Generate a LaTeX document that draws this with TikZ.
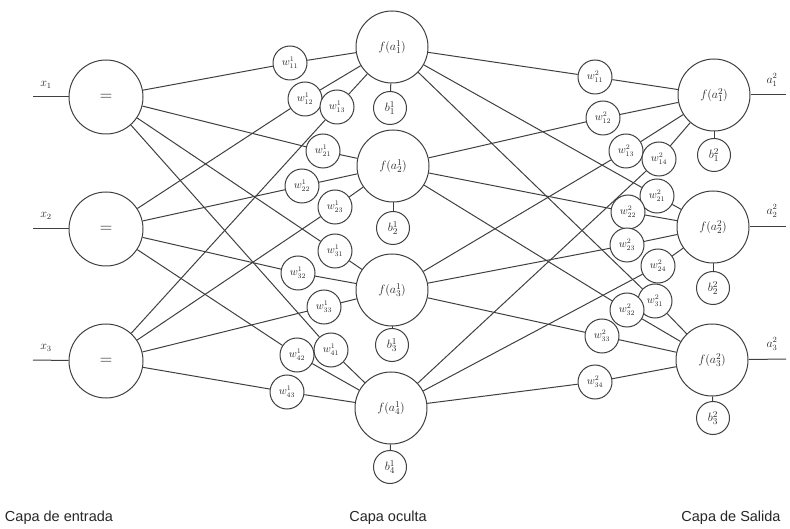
\documentclass[tikz,border=0pt]{standalone}
\usepackage{fontspec}
\newfontfamily\capfont{Liberation Sans}
\usetikzlibrary{backgrounds}
\begin{document}
\begin{tikzpicture}[x=1pt,y=-1pt,
  every node/.style={text=black!85},
  inode/.style={circle,draw=black!75,line width=1pt,fill=white,minimum size=74pt,inner sep=0pt,font=\fontsize{17}{17}\selectfont},
  neuron/.style={circle,draw=black!75,line width=1pt,fill=white,minimum size=72pt,inner sep=0pt,font=\fontsize{13}{13}\selectfont},
  wnode/.style={circle,draw=black!75,line width=1pt,fill=white,minimum size=34pt,inner sep=0pt,font=\fontsize{10.5}{10.5}\selectfont},
  bnode/.style={circle,draw=black!75,line width=1pt,fill=white,minimum size=33pt,inner sep=0pt,font=\fontsize{12.5}{12.5}\selectfont},
  link/.style={draw=black!75,line width=1pt},
  iolab/.style={font=\fontsize{12}{12}\selectfont,inner sep=0pt},
  caplab/.style={font=\capfont\fontsize{14.5}{14.5}\selectfont,inner sep=0pt}]
\useasboundingbox (0,0) rectangle (790,529);

% input layer
\node[inode] (in1) at (106,97) {$=$};
\node[inode] (in2) at (106,229) {$=$};
\node[inode] (in3) at (106,361) {$=$};
% hidden layer
\node[neuron] (h1) at (392,47) {$f(a_1^{1})$};
\node[neuron] (h2) at (393,166) {$f(a_2^{1})$};
\node[neuron] (h3) at (392,290) {$f(a_3^{1})$};
\node[neuron] (h4) at (391,408) {$f(a_4^{1})$};
\node[bnode] (b1) at (390,108) {$b_1^{1}$};
\node[bnode] (b2) at (393,228) {$b_2^{1}$};
\node[bnode] (b3) at (392,345) {$b_3^{1}$};
\node[bnode] (b4) at (390,467) {$b_4^{1}$};
% output layer
\node[neuron] (o1) at (714,95) {$f(a_1^{2})$};
\node[neuron] (o2) at (713,227) {$f(a_2^{2})$};
\node[neuron] (o3) at (712,360) {$f(a_3^{2})$};
\node[bnode] (c1) at (714,155) {$b_1^{2}$};
\node[bnode] (c2) at (713,288) {$b_2^{2}$};
\node[bnode] (c3) at (713,418) {$b_3^{2}$};

% weights layer 1
\node[wnode] (w11) at (290,63) {$w_{11}^{1}$};
\node[wnode] (w12) at (305,99) {$w_{12}^{1}$};
\node[wnode] (w13) at (337,107) {$w_{13}^{1}$};
\node[wnode] (w21) at (323,151) {$w_{21}^{1}$};
\node[wnode] (w22) at (302,186) {$w_{22}^{1}$};
\node[wnode] (w23) at (335,207) {$w_{23}^{1}$};
\node[wnode] (w31) at (335,251) {$w_{31}^{1}$};
\node[wnode] (w32) at (298,273) {$w_{32}^{1}$};
\node[wnode] (w33) at (324,307) {$w_{33}^{1}$};
\node[wnode] (w41) at (331,350) {$w_{41}^{1}$};
\node[wnode] (w42) at (297,355) {$w_{42}^{1}$};
\node[wnode] (w43) at (287,392) {$w_{43}^{1}$};
% weights layer 2
\node[wnode] (v11) at (595,77) {$w_{11}^{2}$};
\node[wnode] (v12) at (603,118) {$w_{12}^{2}$};
\node[wnode] (v13) at (626,151) {$w_{13}^{2}$};
\node[wnode] (v14) at (659,159) {$w_{14}^{2}$};
\node[wnode] (v21) at (657,196) {$w_{21}^{2}$};
\node[wnode] (v22) at (628,212) {$w_{22}^{2}$};
\node[wnode] (v23) at (627,245) {$w_{23}^{2}$};
\node[wnode] (v24) at (658,266) {$w_{24}^{2}$};
\node[wnode] (v31) at (655,301) {$w_{31}^{2}$};
\node[wnode] (v32) at (627,310) {$w_{32}^{2}$};
\node[wnode] (v33) at (602,336) {$w_{33}^{2}$};
\node[wnode] (v34) at (595,382) {$w_{34}^{2}$};

% in/out free ends
\coordinate (x1) at (33,97);
\coordinate (x2) at (33,229);
\coordinate (x3) at (33,360);
\coordinate (s1) at (786,95);
\coordinate (s2) at (786,227);
\coordinate (s3) at (786,359);
\node[iolab] (lx1) at (46,85) {$x_1$};
\node[iolab] (lx2) at (46,216) {$x_2$};
\node[iolab] (lx3) at (46,348) {$x_3$};
\node[iolab] (ls1) at (772,80) {$a_1^{2}$};
\node[iolab] (ls2) at (772,211) {$a_2^{2}$};
\node[iolab] (ls3) at (772,344) {$a_3^{2}$};

% layer captions
\node[caplab] (cap1) at (59,518) {Capa de entrada};
\node[caplab] (cap2) at (388,518) {Capa oculta};
\node[caplab] (cap3) at (731,518) {Capa de Salida};

\begin{pgfonlayer}{background}
  \draw[link] (x1) -- (in1);
  \draw[link] (x2) -- (in2);
  \draw[link] (x3) -- (in3);
  \draw[link] (o1) -- (s1);
  \draw[link] (o2) -- (s2);
  \draw[link] (o3) -- (s3);
  \foreach \j in {1,2,3,4}{
    \foreach \i in {1,2,3}{
      \draw[link] (in\i) -- (w\j\i) -- (h\j);
    }
    \draw[link] (h\j) -- (b\j);
  }
  \foreach \k in {1,2,3}{
    \foreach \j in {1,2,3,4}{
      \draw[link] (h\j) -- (v\k\j) -- (o\k);
    }
    \draw[link] (o\k) -- (c\k);
  }
\end{pgfonlayer}
\end{tikzpicture}
\end{document}
